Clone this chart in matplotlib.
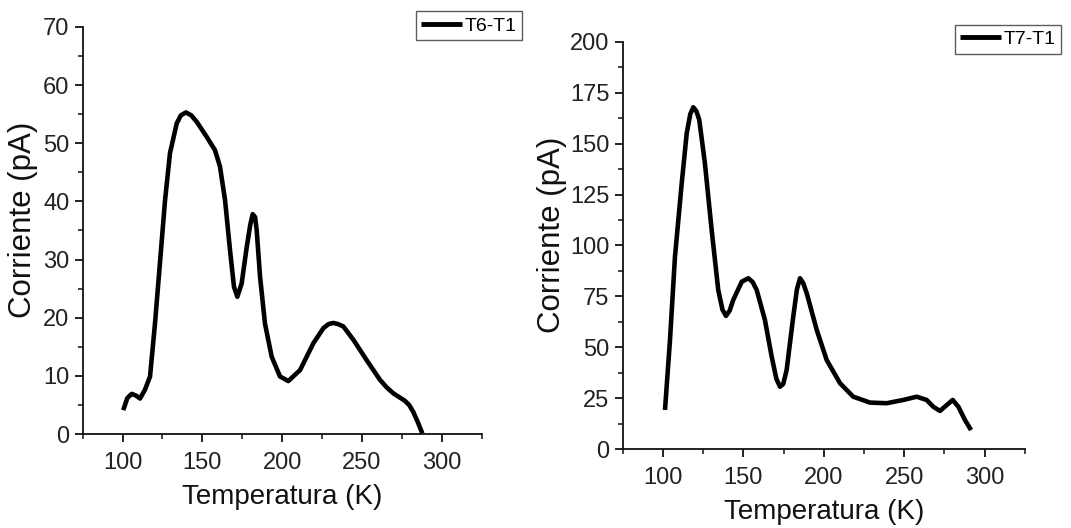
import matplotlib
matplotlib.use("Agg")
import matplotlib.pyplot as plt
from matplotlib.ticker import MultipleLocator

# ---- data ----
t6_temp = [100.4, 103.0, 105.7, 108.5, 110.9, 114.0, 117.2, 120.3, 123.4, 126.6, 129.7,
           133.9, 136.5, 139.7, 143.0, 146.4, 152.7, 157.9, 161.0, 164.2, 167.3, 169.8,
           171.9, 174.6, 177.8, 180.0, 181.5, 183.0, 184.0, 186.1, 189.2, 193.4, 198.6,
           203.8, 211.2, 219.5, 225.8, 229.0, 232.0, 235.0, 238.3, 244.6, 252.9, 261.3,
           265.5, 269.6, 276.9, 279.5, 282.1, 285.0, 287.8]
t6_curr = [4.1, 6.2, 6.9, 6.6, 6.1, 7.6, 9.9, 19.0, 29.4, 40.2, 48.3,
           53.4, 54.8, 55.3, 54.8, 53.7, 51.1, 48.8, 46.0, 40.2, 31.6, 25.3,
           23.6, 25.9, 32.2, 36.0, 37.8, 37.3, 35.1, 27.1, 19.0, 13.3, 9.9,
           9.1, 11.0, 15.6, 18.2, 18.9, 19.1, 18.9, 18.5, 16.2, 12.7, 9.3,
           8.0, 7.0, 5.7, 5.0, 3.8, 2.0, 0.1]

t7_temp = [101.3, 104.4, 107.5, 111.7, 114.8, 117.0, 118.9, 120.8, 122.6, 126.1, 130.3,
           134.4, 137.0, 139.2, 141.5, 143.7, 149.0, 153.1, 155.8, 158.3, 163.4, 167.6,
           170.5, 172.8, 174.8, 176.9, 181.0, 183.3, 185.2, 187.2, 189.4, 195.6, 201.8,
           210.1, 218.3, 228.7, 239.1, 249.4, 257.7, 263.9, 268.0, 272.2, 276.4, 280.1,
           283.6, 287.7, 291.5]
t7_curr = [19.2, 53.6, 94.5, 130.6, 155.1, 164.5, 167.9, 166.0, 161.7, 140.4, 107.6,
           78.1, 68.5, 65.4, 68.0, 73.2, 82.2, 83.9, 82.0, 78.1, 63.4, 45.4,
           34.5, 30.6, 32.0, 38.8, 65.0, 78.5, 83.9, 81.5, 76.5, 58.5, 43.7,
           32.3, 25.7, 22.8, 22.5, 24.1, 25.7, 24.1, 20.8, 18.7, 21.6, 24.1,
           20.8, 14.3, 9.3]

x_ticks = [100, 150, 200, 250, 300]
left_yticks = [0, 10, 20, 30, 40, 50, 60, 70]
right_yticks = [0, 25, 50, 75, 100, 125, 150, 175, 200]

TICK_FONT = "Liberation Sans"
LABEL_FONT = "Liberation Sans"

fig = plt.figure(figsize=(10.71, 5.28), dpi=100)
axL = fig.add_axes([0.0772, 0.178, 0.3726, 0.771])
axR = fig.add_axes([0.5814, 0.1496, 0.3756, 0.771])

def style(ax, yticks, ymax, yminor, label_x, legend_anchor, x, y, name):
    ax.plot(x, y, color="black", lw=3.3, solid_joinstyle="round",
            solid_capstyle="butt", label=name)
    ax.set_xlim(75, 325)
    ax.set_ylim(0, ymax)
    ax.set_xticks(x_ticks)
    ax.set_yticks(yticks)
    ax.xaxis.set_minor_locator(MultipleLocator(25))
    ax.yaxis.set_minor_locator(MultipleLocator(yminor))
    for s in ("top", "right"):
        ax.spines[s].set_visible(False)
    for s in ("left", "bottom"):
        ax.spines[s].set_linewidth(1.3)
        ax.spines[s].set_color("#111111")
    ax.tick_params(which="major", direction="out", length=6, width=1.3,
                   colors="#111111", labelsize=17, pad=3.5)
    ax.tick_params(which="minor", direction="out", length=3.5, width=1.1,
                   colors="#111111")
    ax.tick_params(axis="x", which="major", pad=7)
    for lab in ax.get_xticklabels() + ax.get_yticklabels():
        lab.set_fontfamily(TICK_FONT)
        lab.set_color("#222222")
    ax.set_xlabel("Temperatura (K)", fontsize=20, family=LABEL_FONT, color="#111111")
    ax.set_ylabel("Corriente (pA)", fontsize=22.5, family=LABEL_FONT, color="#111111")
    ax.xaxis.set_label_coords(0.5, -0.155)
    ax.xaxis.label.set_va("center")
    ax.yaxis.set_label_coords(label_x, 0.526)
    ax.yaxis.label.set_va("center")
    leg = fig.legend(handles=ax.get_lines(), loc="upper right",
                     bbox_to_anchor=legend_anchor, bbox_transform=fig.transFigure,
                     frameon=True, fancybox=False, handlelength=2.1,
                     handletextpad=0.1, borderpad=0.3, borderaxespad=0.0,
                     prop={"family": TICK_FONT, "size": 14})
    leg.get_frame().set_edgecolor("#333333")
    leg.get_frame().set_linewidth(1.0)
    for h in leg.get_lines():
        h.set_linewidth(3.5)

style(axL, left_yticks, 70, 5, -0.150, (0.4874, 0.979), t6_temp, t6_curr, "T6-T1")
style(axR, right_yticks, 200, 12.5, -0.176, (0.9907, 0.953), t7_temp, t7_curr, "T7-T1")

fig.savefig("out.png", dpi=100)
